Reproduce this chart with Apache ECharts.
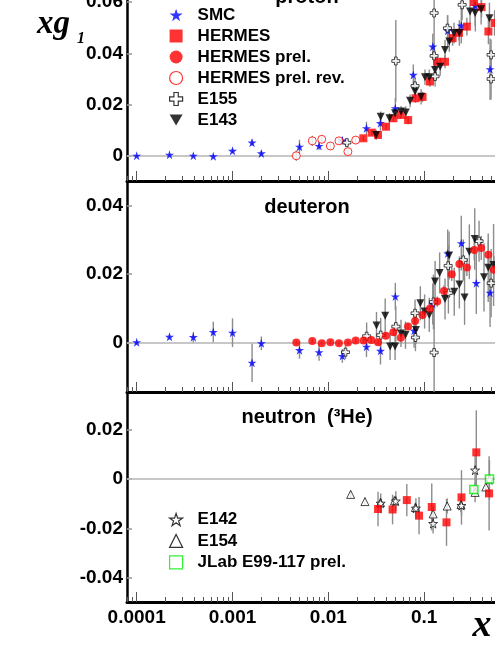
<!DOCTYPE html>
<html>
<head>
<meta charset="utf-8">
<script src="https://cdn.jsdelivr.net/npm/echarts@6/dist/echarts.min.js"></script>
<style>
  html, body { margin: 0; padding: 0; width: 495px; height: 654px; overflow: hidden; background: #fff; }
  #chart { position: absolute; left: 0; top: -30px; width: 545px; height: 690px; }
</style>
</head>
<body>
<div id="chart"></div>
<script>
// x axis (log) ticks
const xTickValues = [0.0001, 0.001, 0.01, 0.1, 1];
const xTickLabels = ['0.0001', '0.001', '0.01', '0.1', '1'];

// y ticks per panel
const protonTicks = [0, 0.02, 0.04, 0.06];
const protonLabels = ['0', '0.02', '0.04', '0.06'];
const deuteronTicks = [0, 0.02, 0.04];
const deuteronLabels = ['0', '0.02', '0.04'];
const neutronTicks = [-0.04, -0.02, 0, 0.02];
const neutronLabels = ['-0.04', '-0.02', '0', '0.02'];

// [x, xg1, error]
const protonSMC = [
  [1.0e-4, 0.0001, 0.0003], [2.2e-4, 0.0005, 0.0003], [3.9e-4, 0.0001, 0.0004],
  [6.3e-4, -0.0001, 0.0005], [1.0e-3, 0.002, 0.0008], [1.6e-3, 0.0052, 0.0012],
  [2.0e-3, 0.001, 0.001], [5.0e-3, 0.0036, 0.0027], [8.0e-3, 0.0039, 0.0015],
  [0.014, 0.006, 0.0015], [0.025, 0.0108, 0.0025], [0.035, 0.0128, 0.003],
  [0.050, 0.0186, 0.004], [0.077, 0.0316, 0.004], [0.123, 0.0426, 0.005],
  [0.176, 0.0488, 0.006], [0.244, 0.0508, 0.007], [0.342, 0.0585, 0.01],
  [0.487, 0.0338, 0.012]
];
const protonHERMES = [
  [0.0232, 0.0069, 0.001], [0.0284, 0.0091, 0.001], [0.033, 0.0082, 0.0012],
  [0.040, 0.0114, 0.0012], [0.0477, 0.0147, 0.0014], [0.057, 0.016, 0.0015],
  [0.068, 0.014, 0.0016], [0.0813, 0.0225, 0.0018], [0.0962, 0.023, 0.002],
  [0.115, 0.029, 0.002], [0.137, 0.0367, 0.0022], [0.165, 0.0367, 0.0025],
  [0.198, 0.0459, 0.003], [0.231, 0.048, 0.003], [0.279, 0.0504, 0.0035],
  [0.332, 0.060, 0.004], [0.397, 0.058, 0.004], [0.468, 0.0485, 0.005],
  [0.543, 0.0518, 0.005]
];
const protonPrelRev = [
  [0.00463, 0.0001, 0.002], [0.0068, 0.0059, 0.002], [0.00853, 0.0065, 0.0015],
  [0.0105, 0.0039, 0.0015], [0.0129, 0.0059, 0.0012], [0.016, 0.0017, 0.0012],
  [0.0193, 0.0062, 0.001]
];
const protonE155 = [
  [0.0156, 0.0052, 0.0015], [0.0506, 0.037, 0.016], [0.0803, 0.0273, 0.003],
  [0.127, 0.0557, 0.02], [0.127, 0.039, 0.005], [0.130, 0.031, 0.004],
  [0.175, 0.0498, 0.005], [0.249, 0.0589, 0.006], [0.499, 0.0394, 0.006],
  [0.499, 0.030, 0.008]
];
const protonE143 = [
  [0.0315, 0.0082, 0.002], [0.0352, 0.0153, 0.002], [0.0434, 0.0147, 0.002],
  [0.0497, 0.0167, 0.002], [0.0574, 0.0173, 0.0022], [0.0643, 0.0169, 0.0025],
  [0.0713, 0.0215, 0.0025], [0.0804, 0.0251, 0.0025], [0.0929, 0.0231, 0.003],
  [0.102, 0.0307, 0.003], [0.113, 0.0307, 0.003], [0.130, 0.0335, 0.003],
  [0.147, 0.0348, 0.0035], [0.165, 0.0413, 0.004], [0.183, 0.0446, 0.004],
  [0.205, 0.0479, 0.004], [0.233, 0.0479, 0.005], [0.301, 0.0563, 0.005],
  [0.340, 0.0557, 0.005], [0.393, 0.0572, 0.006], [0.480, 0.0537, 0.006]
];

const deuteronSMC = [
  [1.0e-4, 0.0, 0.0005], [2.2e-4, 0.0016, 0.0006], [3.9e-4, 0.0015, 0.0015],
  [6.3e-4, 0.003, 0.003], [1.0e-3, 0.0028, 0.0042], [1.6e-3, -0.006, 0.0056],
  [2.0e-3, -0.0003, 0.002], [5.0e-3, -0.0023, 0.0025], [8.0e-3, -0.0029, 0.0025],
  [0.014, -0.004, 0.002], [0.025, -0.0013, 0.003], [0.035, -0.0025, 0.004],
  [0.050, 0.0134, 0.004], [0.0785, 0.0034, 0.005], [0.123, 0.0112, 0.006],
  [0.176, 0.026, 0.007], [0.244, 0.029, 0.008], [0.350, 0.0173, 0.009],
  [0.487, 0.0145, 0.01]
];
const deuteronHERMES = [
  [0.00463, -0.0001, 0.0006], [0.0068, 0.0004, 0.0006], [0.00853, -0.0003, 0.0006],
  [0.0105, 0.0, 0.0006], [0.0129, -0.0003, 0.0006], [0.016, -0.0001, 0.0006],
  [0.0193, 0.0005, 0.0006], [0.0234, 0.0005, 0.0007], [0.0281, 0.0007, 0.0008],
  [0.033, 0.0, 0.0008], [0.0399, 0.0019, 0.0009], [0.0477, 0.0029, 0.001],
  [0.057, 0.0013, 0.001], [0.0679, 0.0046, 0.0011], [0.0804, 0.0062, 0.0012],
  [0.0962, 0.008, 0.0013], [0.115, 0.0099, 0.0014], [0.137, 0.0119, 0.0015],
  [0.161, 0.015, 0.0017], [0.194, 0.0199, 0.002], [0.233, 0.0229, 0.0022],
  [0.279, 0.0219, 0.0025], [0.333, 0.027, 0.003], [0.394, 0.0276, 0.0035],
  [0.467, 0.0256, 0.004], [0.535, 0.0212, 0.004]
];
const deuteronE143 = [
  [0.0318, 0.0049, 0.004], [0.0392, 0.0078, 0.005], [0.0441, -0.0012, 0.004],
  [0.0497, -0.0012, 0.004], [0.0573, 0.0026, 0.004], [0.0638, 0.0021, 0.004],
  [0.0821, 0.0036, 0.004], [0.0912, 0.0114, 0.005], [0.101, 0.009, 0.005],
  [0.113, 0.008, 0.005], [0.130, 0.0178, 0.006], [0.145, 0.0203, 0.006],
  [0.165, 0.0127, 0.006], [0.182, 0.0254, 0.007], [0.206, 0.0148, 0.007],
  [0.233, 0.0169, 0.007], [0.264, 0.0131, 0.008], [0.296, 0.0265, 0.008],
  [0.337, 0.0302, 0.009], [0.421, 0.019, 0.01], [0.466, 0.0218, 0.01],
  [0.530, 0.0226, 0.012]
];
const deuteronE155 = [
  [0.0151, -0.0029, 0.002], [0.0251, 0.0018, 0.004], [0.0352, 0.0021, 0.005],
  [0.0506, 0.0046, 0.006], [0.0803, 0.0085, 0.004], [0.0811, 0.0014, 0.004],
  [0.127, -0.003, 0.013], [0.125, 0.0118, 0.008], [0.178, 0.0224, 0.006],
  [0.179, 0.0144, 0.006], [0.256, 0.0241, 0.006], [0.374, 0.0296, 0.006],
  [0.500, 0.0173, 0.01]
];

const neutronHERMES = [
  [0.033, -0.0121, 0.007], [0.0468, -0.0123, 0.006], [0.0659, -0.0085, 0.0065],
  [0.0884, -0.0148, 0.0075], [0.120, -0.0113, 0.0095], [0.171, -0.0175, 0.0095],
  [0.245, -0.0074, 0.011], [0.350, 0.0108, 0.017], [0.476, -0.0058, 0.015]
];
const neutronE142 = [
  [0.0352, -0.0098, 0.004], [0.0506, -0.0089, 0.004], [0.082, -0.0118, 0.004],
  [0.124, -0.018, 0.004], [0.245, -0.0107, 0.004], [0.340, 0.0036, 0.006],
  [0.480, -0.0003, 0.008]
];
const neutronE154 = [
  [0.0171, -0.0062, 0.0015], [0.0241, -0.0091, 0.0015], [0.035, -0.0095, 0.002],
  [0.049, -0.0088, 0.002], [0.081, -0.0115, 0.002], [0.124, -0.0141, 0.003],
  [0.174, -0.0109, 0.003], [0.242, -0.0103, 0.003], [0.340, -0.0054, 0.004],
  [0.440, -0.0032, 0.004]
];
const neutronJLab = [
  [0.33, -0.0042, 0.0015], [0.48, 0.0, 0.0015]
];

const legendTop = ['SMC', 'HERMES', 'HERMES prel.', 'HERMES prel. rev.', 'E155', 'E143'];
const legendBottom = ['E142', 'E154', 'JLab E99-117 prel.'];

const LOGMIN = -4.101, LOGMAX = 0;
const FONT = 'Liberation Sans';

const STAR = 'path://M0,-10L2.245,-3.09L9.51,-3.09L3.633,1.18L5.878,8.09L0,3.82L-5.878,8.09L-3.633,1.18L-9.51,-3.09L-2.245,-3.09Z';
const CROSS = 'path://M-1,-3L1,-3L1,-1L3,-1L3,1L1,1L1,3L-1,3L-1,1L-3,1L-3,-1L-1,-1Z';
const DOWN = 'path://M-6,0L6,0L0,10Z';

const panels = [
  { top: 6.3, height: 204.7, min: -0.00974, max: 0.070, ticks: protonTicks, labels: protonLabels },
  { top: 211, height: 211, min: -0.01455, max: 0.0472, ticks: deuteronTicks, labels: deuteronLabels },
  { top: 422, height: 210, min: -0.0497, max: 0.0352, ticks: neutronTicks, labels: neutronLabels }
];

const minorTicks = [];
for (let d = -5; d <= -1; d++) {
  for (let k = 2; k <= 9; k++) minorTicks.push(Math.log10(k * Math.pow(10, d)));
}
const majorTicks = xTickValues.map(v => Math.log10(v));

function pts(arr) {
  return arr.map(d => [Math.log10(d[0]), d[1], d[2]]);
}

const labelStyle = { fontSize: 19, fontWeight: 'bold', fontFamily: FONT, color: '#000' };

const grids = [], xAxes = [], yAxes = [];
panels.forEach((p, i) => {
  grids.push({ left: 127, width: 393, top: p.top, height: p.height });
  xAxes.push({
    type: 'value', gridIndex: i, min: LOGMIN, max: LOGMAX, position: 'bottom',
    axisLine: { onZero: false, lineStyle: { color: '#000', width: 3 } },
    axisTick: { inside: true, length: 10, customValues: majorTicks, lineStyle: { color: '#555', width: 1 } },
    axisLabel: Object.assign({
      show: i === 2, margin: 6, customValues: majorTicks,
      formatter: v => {
        const k = majorTicks.findIndex(t => Math.abs(t - v) < 1e-6);
        return k >= 0 ? xTickLabels[k] : '';
      }
    }, labelStyle),
    splitLine: { show: false }
  });
  xAxes.push({
    type: 'value', gridIndex: i, min: LOGMIN, max: LOGMAX, position: 'bottom',
    axisLine: { show: false, onZero: false },
    axisTick: { inside: true, length: 5, customValues: minorTicks, lineStyle: { color: '#555', width: 1 } },
    axisLabel: { show: false },
    splitLine: { show: false }
  });
  yAxes.push({
    type: 'value', gridIndex: i, min: p.min, max: p.max,
    axisLine: { show: true, onZero: false, lineStyle: { color: '#000', width: 2.5 } },
    axisTick: { show: true, inside: true, length: 5, customValues: p.ticks, lineStyle: { color: '#999', width: 1.5 } },
    axisLabel: Object.assign({
      margin: 4, customValues: p.ticks,
      formatter: v => {
        const k = p.ticks.findIndex(t => Math.abs(t - v) < 1e-9);
        return k >= 0 ? p.labels[k] : '';
      }
    }, labelStyle),
    splitLine: { show: false }
  });
});

function scatter(name, grid, arr, symbol, size, itemStyle) {
  return {
    type: 'scatter', name, xAxisIndex: grid * 2, yAxisIndex: grid,
    data: pts(arr), symbol, symbolSize: size, itemStyle, z: 3,
    emphasis: { disabled: true }
  };
}

function errorBars(grid, arrs) {
  return {
    type: 'custom', xAxisIndex: grid * 2, yAxisIndex: grid, clip: true, z: 2, silent: true,
    data: [].concat(...arrs.map(pts)),
    encode: { x: 0, y: 1 },
    renderItem(params, api) {
      const x = api.value(0), y = api.value(1), e = api.value(2);
      const a = api.coord([x, y - e]);
      const b = api.coord([x, y + e]);
      return {
        type: 'line',
        shape: { x1: a[0], y1: a[1], x2: b[0], y2: b[1] },
        style: { stroke: '#8c8c8c', lineWidth: 1.4 }
      };
    },
    markLine: {
      silent: true, z: 1, symbol: ['none', 'none'], label: { show: false },
      lineStyle: { color: '#b4b4b4', width: 1.5, type: 'solid' },
      data: [{ yAxis: 0 }]
    }
  };
}

const blueStar = { color: '#0000ff' };
const redFill = { color: '#ff0000' };
const redOpen = { color: '#ffffff', borderColor: '#ff0000', borderWidth: 1 };
const blackOpen = { color: '#ffffff', borderColor: '#000000', borderWidth: 0.9 };
const blackFill = { color: '#000000' };
const greenOpen = { color: '#ffffff', borderColor: '#00ee00', borderWidth: 1.5 };

const series = [
  errorBars(0, [protonSMC, protonHERMES, protonPrelRev, protonE155, protonE143]),
  scatter('SMC', 0, protonSMC, STAR, 9, blueStar),
  scatter('HERMES', 0, protonHERMES, 'rect', 8, redFill),
  scatter('HERMES prel. rev.', 0, protonPrelRev, 'circle', 8, redOpen),
  scatter('E155', 0, protonE155, CROSS, 8, blackOpen),
  scatter('E143', 0, protonE143, DOWN, 8, blackFill),

  errorBars(1, [deuteronSMC, deuteronHERMES, deuteronE143, deuteronE155]),
  scatter('SMC', 1, deuteronSMC, STAR, 9, blueStar),
  scatter('E155', 1, deuteronE155, CROSS, 8, blackOpen),
  scatter('E143', 1, deuteronE143, DOWN, 8, blackFill),
  scatter('HERMES prel.', 1, deuteronHERMES, 'circle', 8, redFill),

  errorBars(2, [neutronHERMES, neutronE142, neutronE154, neutronJLab]),
  scatter('E154', 2, neutronE154, 'triangle', 8, blackOpen),
  scatter('E142', 2, neutronE142, STAR, 9, blackOpen),
  scatter('HERMES', 2, neutronHERMES, 'rect', 8, redFill),
  scatter('JLab E99-117 prel.', 2, neutronJLab, 'rect', 8, greenOpen)
];

const legendText = {
  fontSize: 17, fontWeight: 'bold', fontFamily: FONT, color: '#000',
  lineHeight: 13, padding: [0, 0, 0, 10]
};

const titleFont = 'bold 20px "Liberation Sans"';

const chart = echarts.init(document.getElementById('chart'), null, { renderer: 'canvas' });
chart.setOption({
  animation: false,
  backgroundColor: '#fff',
  grid: grids,
  xAxis: xAxes,
  yAxis: yAxes,
  legend: [
    {
      data: legendTop, orient: 'vertical', left: 164, top: 31.5,
      itemWidth: 13, itemHeight: 13, itemGap: 4, selectedMode: false,
      textStyle: legendText, itemStyle: { borderWidth: 1.2 }
    },
    {
      data: legendBottom, orient: 'vertical', left: 164, top: 536,
      itemWidth: 13, itemHeight: 13, itemGap: 4.4, selectedMode: false,
      textStyle: legendText, itemStyle: { borderWidth: 1.2 }
    }
  ],
  graphic: [
    { type: 'text', x: 307, y: 27, style: { text: 'proton', font: titleFont, fill: '#000', textAlign: 'center', textVerticalAlign: 'middle' } },
    { type: 'text', x: 307, y: 237.5, style: { text: 'deuteron', font: titleFont, fill: '#000', textAlign: 'center', textVerticalAlign: 'middle' } },
    { type: 'text', x: 307, y: 447.5, style: { text: 'neutron  (³He)', font: titleFont, fill: '#000', textAlign: 'center', textVerticalAlign: 'middle' } },
    { type: 'text', x: 37, y: 54, style: { text: 'xg', font: 'italic bold 33px "Liberation Serif"', fill: '#000', textAlign: 'left', textVerticalAlign: 'middle' } },
    { type: 'text', x: 77, y: 68.5, style: { text: '1', font: 'italic bold 16px "Liberation Serif"', fill: '#000', textAlign: 'left', textVerticalAlign: 'middle' } },
    { type: 'text', x: 482, y: 656, style: { text: 'x', font: 'italic bold 38px "Liberation Serif"', fill: '#000', textAlign: 'center', textVerticalAlign: 'middle' } }
  ],
  series
});
</script>
</body>
</html>
